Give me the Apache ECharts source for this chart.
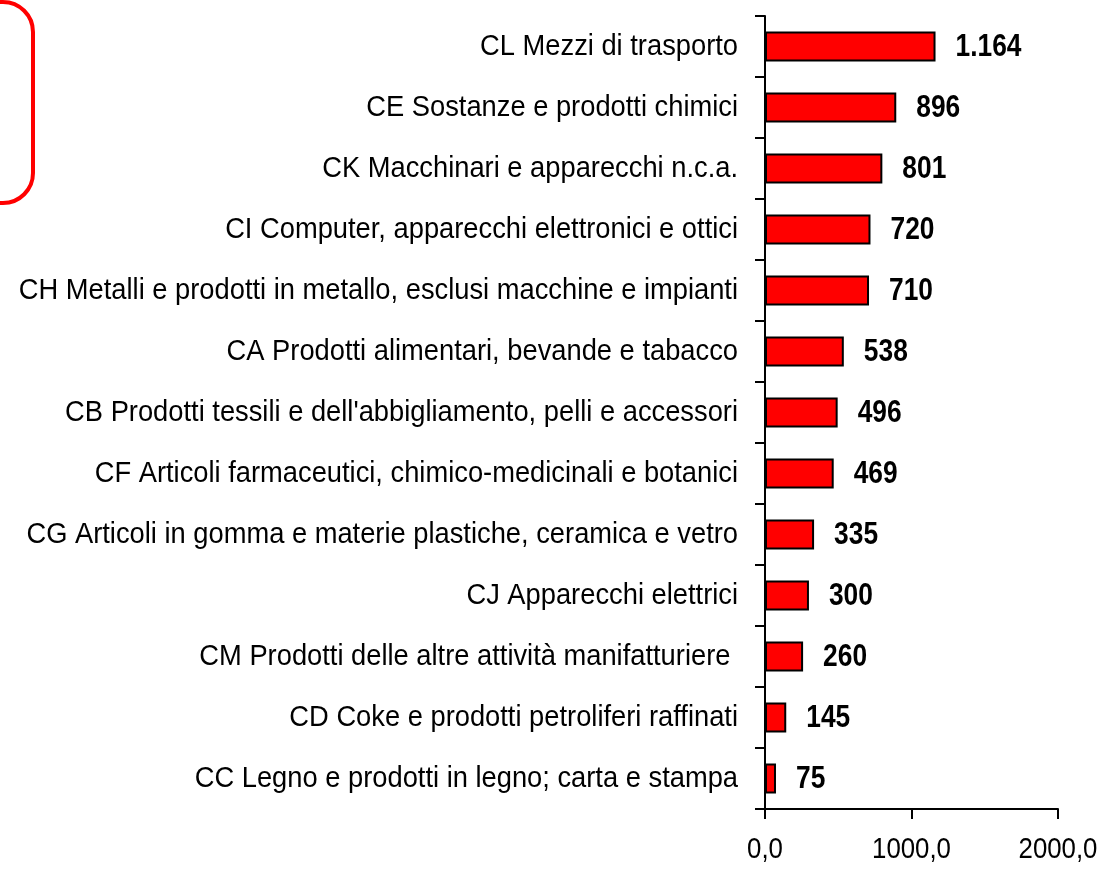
<!DOCTYPE html>
<html>
<head>
<meta charset="utf-8">
<script src="https://cdn.jsdelivr.net/npm/echarts@6/dist/echarts.min.js"></script>
<style>
  html, body { margin: 0; padding: 0; background: #fff; }
  #chart { width: 1100px; height: 874px; }
</style>
</head>
<body>
<div id="chart"></div>
<script>
// categorie (dall'alto verso il basso)
var categories = [
  'CL Mezzi di trasporto',
  'CE Sostanze e prodotti chimici',
  'CK Macchinari e apparecchi n.c.a.',
  'CI Computer, apparecchi elettronici e ottici',
  'CH Metalli e prodotti in metallo, esclusi macchine e impianti',
  'CA Prodotti alimentari, bevande e tabacco',
  "CB Prodotti tessili e dell'abbigliamento, pelli e accessori",
  'CF Articoli farmaceutici, chimico-medicinali e botanici',
  'CG Articoli in gomma e materie plastiche, ceramica e vetro',
  'CJ Apparecchi elettrici',
  'CM Prodotti delle altre attività manifatturiere ',
  'CD Coke e prodotti petroliferi raffinati',
  'CC Legno e prodotti in legno; carta e stampa'
]
var values = [1164, 896, 801, 720, 710, 538, 496, 469, 335, 300, 260, 145, 75]
var xTicks = [0, 1000, 2000]

// niente Arial Narrow installato: testo normale schiacciato in orizzontale
var FONT = '"Liberation Sans", Arial, sans-serif'

function fmtValue(v) {
  // separatore delle migliaia all'italiana
  return String(v).replace(/\B(?=(\d{3})+(?!\d))/g, '.')
}
function fmtTick(v) {
  return v.toFixed(1).replace('.', ',')
}

var myChart = echarts.init(document.getElementById('chart'))
var option = {
  animation: false,
  backgroundColor: '#fff',
  grid: {
    left: 765,
    top: 16,
    width: 293,
    height: 793,
    containLabel: false,
    outerBoundsMode: 'none'
  },
  xAxis: {
    type: 'value',
    min: xTicks[0],
    max: xTicks[xTicks.length - 1],
    interval: 1000,
    axisLine: { show: true, lineStyle: { color: '#000', width: 2 } },
    axisTick: { show: true, length: 10, lineStyle: { color: '#000', width: 2 } },
    splitLine: { show: false },
    axisLabel: { show: false }
  },
  yAxis: {
    type: 'category',
    inverse: true,
    data: categories,
    axisLine: { show: true, lineStyle: { color: '#000', width: 2 } },
    axisTick: { show: true, length: 10, lineStyle: { color: '#000', width: 2 } },
    axisLabel: { show: false }
  },
  series: [{
    type: 'bar',
    data: values,
    barWidth: 30,
    itemStyle: {
      color: '#ff0000',
      borderColor: '#000',
      borderWidth: 2
    }
  }]
}
myChart.setOption(option)

// etichette disegnate come testo grafico (posizioni prese dalle scale del grafico)
var graphics = [{
  type: 'rect',
  shape: { x: -200, y: 2, width: 233, height: 201, r: 30 },
  style: { fill: 'none', stroke: '#ff0000', lineWidth: 4 }
}]
var x0 = myChart.convertToPixel({ xAxisIndex: 0 }, 0)
categories.forEach(function (name, i) {
  var y = myChart.convertToPixel({ yAxisIndex: 0 }, name)
  graphics.push({
    type: 'text', x: x0 - 27, y: y, scaleX: 0.91,
    style: { text: name, fill: '#000', font: '30px ' + FONT, align: 'right', verticalAlign: 'middle' }
  })
  var xv = myChart.convertToPixel({ xAxisIndex: 0 }, values[i])
  graphics.push({
    type: 'text', x: xv + 20, y: y + 1, scaleX: 0.85,
    style: { text: fmtValue(values[i]), fill: '#000', font: 'bold 31px ' + FONT, align: 'left', verticalAlign: 'middle' }
  })
})
var yAxisBottom = myChart.convertToPixel({ yAxisIndex: 0 }, categories[categories.length - 1]) + 793 / 26
xTicks.forEach(function (t) {
  var xt = myChart.convertToPixel({ xAxisIndex: 0 }, t)
  graphics.push({
    type: 'text', x: xt, y: yAxisBottom + 41, scaleX: 0.86,
    style: { text: fmtTick(t), fill: '#000', font: '30px ' + FONT, align: 'center', verticalAlign: 'middle' }
  })
})
myChart.setOption({ graphic: graphics })
</script>
</body>
</html>
